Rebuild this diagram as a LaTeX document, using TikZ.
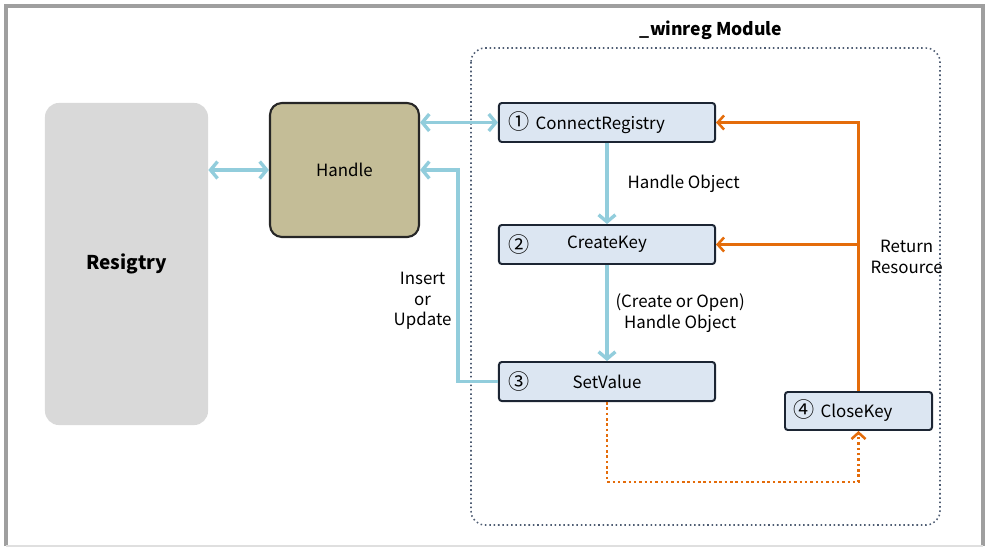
\documentclass[tikz,border=0pt]{standalone}
\usepackage{fontspec}
\setmainfont{Noto Sans CJK KR}
\usetikzlibrary{arrows.meta,positioning}
\definecolor{skyline}{HTML}{92CDDC}
\definecolor{rust}{HTML}{E46C0A}
\definecolor{khaki}{HTML}{C4BD97}
\definecolor{paleblue}{HTML}{DCE6F2}
\definecolor{navy}{HTML}{1C2533}
\definecolor{slate}{HTML}{4F5D73}
\newcommand\circnum[1]{{\fontsize{15}{15}\selectfont#1}}

\begin{document}
\begin{tikzpicture}[x=0.025cm,y=-0.025cm,font=\fontsize{12}{14.5}\selectfont,
   fn/.style={draw=navy,fill=paleblue,line width=1.4pt,rounded corners=2pt,
              minimum width=5.4cm,minimum height=0.975cm,inner sep=0pt},
   num/.style={label={[anchor=west,xshift=0.25cm,inner sep=0pt]west:\circnum{#1}}},
   link/.style={draw=skyline,line width=2.4pt,>={Straight Barb[length=5pt,width=12pt]}},
   back/.style={draw=rust,line width=1.8pt,>={Straight Barb[length=4.5pt,width=10pt]}},
   lbl/.style={align=center,inner sep=2pt}]
  \useasboundingbox (0,0) rectangle (988,548);
  \draw[gray!75,line width=2.4pt] (6,546) |- (983,6) -- (983,546);
  \draw[gray!25,line width=1.5pt] (6,546) -- (983,546);
  \draw[slate,line width=1.1pt,dotted,rounded corners=0.35cm] (471,48) rectangle (940,525);
  \node[font=\fontsize{12.5}{15}\selectfont\bfseries] (ttl) at (711,30) {\_winreg Module};
  \node[fill=gray!30,rounded corners=0.35cm,minimum width=4.075cm,minimum height=8.05cm,
        font=\fontsize{13.5}{15}\selectfont\bfseries] (reg) at (126.5,264) {Resigtry};
  \node[draw=black!85,fill=khaki,line width=1.5pt,rounded corners=0.3cm,
        minimum width=3.725cm,minimum height=3.35cm] (hd) at (344.5,170) {Handle};
  \node[fn,inner xsep=0.25cm,text width=4.9cm,align=left] (cr) at (607,122.5) {\circnum{①} ConnectRegistry};
  \node[fn,num=②,below=2.025cm of cr] (ck) {CreateKey};
  \node[fn,num=③,below=2.4cm of ck] (sv) {SetValue};
  \node[fn,minimum width=3.675cm,minimum height=0.95cm,inner xsep=0.22cm,text width=3.235cm,
        align=left] (clk) at (858.5,411) {\circnum{④} CloseKey};
  \draw[link,<->] (reg.east |- hd.west) -- (hd.west);
  \draw[link,<->] (hd.east |- cr.west) -- (cr.west);
  \draw[link,->] (cr) -- node[lbl,right=0.4cm] {Handle Object} (ck);
  \draw[link,->] (ck) -- node[lbl,right=0.1cm] {(Create or Open)\\Handle Object} (sv);
  \draw[link,->] (sv.west) -- ++(-40,0) |- node[lbl,pos=0.19,left=0.05cm] {Insert\\or\\Update} (hd.east);
  \draw[back,->] (clk.north) |- node[lbl,pos=0.25,right=0.2cm] {Return\\Resource} (cr.east);
  \draw[back,->] (clk.north |- ck.east) -- (ck.east);
  \draw[back,dotted,->] (sv.south) -- ++(0,80) -| (clk.south);
\end{tikzpicture}
\end{document}
